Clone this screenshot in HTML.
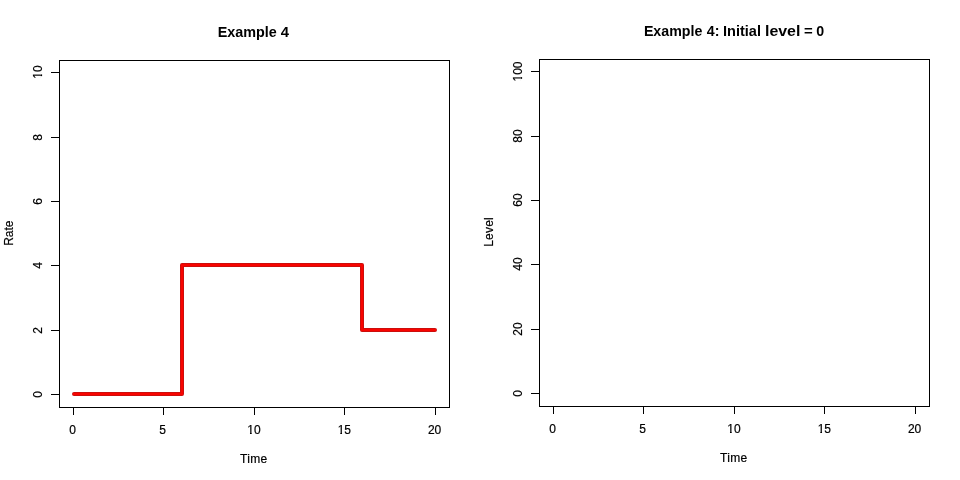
<!DOCTYPE html>
<html><head><meta charset="utf-8"><title>Example 4</title>
<style>
html,body{margin:0;padding:0;background:#fff;}
svg{display:block;}
text{font-family:"Liberation Sans",sans-serif;fill:#000;}
.t{font-size:14px;font-weight:bold;}
.l{font-size:12px;stroke:#000;stroke-width:0.2px;}
.m{text-anchor:middle;}
</style></head><body>
<svg width="960" height="480" viewBox="0 0 960 480">
<rect x="0" y="0" width="960" height="480" fill="#fff"/>
<g fill="#000">
<g shape-rendering="crispEdges">
<rect x="59" y="60" width="391" height="1"/>
<rect x="59" y="407" width="391" height="1"/>
<rect x="59" y="60" width="1" height="348"/>
<rect x="449" y="60" width="1" height="348"/>
<rect x="73" y="407" width="1" height="8"/>
<rect x="163" y="407" width="1" height="8"/>
<rect x="254" y="407" width="1" height="8"/>
<rect x="344" y="407" width="1" height="8"/>
<rect x="435" y="407" width="1" height="8"/>
<rect x="51" y="394" width="9" height="1"/>
<rect x="51" y="330" width="9" height="1"/>
<rect x="51" y="265" width="9" height="1"/>
<rect x="51" y="201" width="9" height="1"/>
<rect x="51" y="137" width="9" height="1"/>
<rect x="51" y="72" width="9" height="1"/>
</g>
<path d="M74 394H182V265H362V330H435" fill="none" stroke="#cc0e0c" stroke-width="4" stroke-linecap="round" stroke-linejoin="round"/>
<path d="M73 394H182V265H362V330H436" fill="none" stroke="#f80400" stroke-width="2" stroke-linecap="butt" stroke-linejoin="miter"/>
<text class="t" transform="translate(217.72,37) scale(1.0272,1)">Example</text>
<text class="t" transform="translate(280.75,37) scale(1.0590,1)">4</text>
<g transform="translate(72.6,434)"><text class="l m">0</text></g>
<g transform="translate(162.5,434)"><text class="l m">5</text></g>
<g transform="translate(254.0,434)"><text class="l m">10</text><rect x="-6.57" y="-1" width="2.55" height="2.4" fill="#fff"/><rect x="-2.27" y="-1" width="2.3" height="2.4" fill="#fff"/></g>
<g transform="translate(344.3,434)"><text class="l m">15</text><rect x="-6.57" y="-1" width="2.55" height="2.4" fill="#fff"/><rect x="-2.27" y="-1" width="2.3" height="2.4" fill="#fff"/></g>
<g transform="translate(434.6,434)"><text class="l m">20</text></g>
<text class="l" x="239.9" y="463" dx="0 0.4 0.3 0.4">Time</text>
<g transform="translate(41.6,394.5) rotate(-90)"><text class="l m">0</text></g>
<g transform="translate(41.6,330.5) rotate(-90)"><text class="l m">2</text></g>
<g transform="translate(41.6,265.5) rotate(-90)"><text class="l m">4</text></g>
<g transform="translate(41.6,201.5) rotate(-90)"><text class="l m">6</text></g>
<g transform="translate(41.6,137.5) rotate(-90)"><text class="l m">8</text></g>
<g transform="translate(41.6,72.1) rotate(-90)"><text class="l m">10</text><rect x="-6.57" y="-1" width="2.55" height="2.4" fill="#fff"/><rect x="-2.27" y="-1" width="2.3" height="2.4" fill="#fff"/></g>
<text class="l" transform="translate(12.6,245.85) rotate(-90)">Rate</text>
<g shape-rendering="crispEdges">
<rect x="539" y="59" width="391" height="1"/>
<rect x="539" y="406" width="391" height="1"/>
<rect x="539" y="59" width="1" height="348"/>
<rect x="929" y="59" width="1" height="348"/>
<rect x="553" y="406" width="1" height="8"/>
<rect x="643" y="406" width="1" height="8"/>
<rect x="734" y="406" width="1" height="8"/>
<rect x="824" y="406" width="1" height="8"/>
<rect x="915" y="406" width="1" height="8"/>
<rect x="531" y="393" width="9" height="1"/>
<rect x="531" y="329" width="9" height="1"/>
<rect x="531" y="264" width="9" height="1"/>
<rect x="531" y="200" width="9" height="1"/>
<rect x="531" y="136" width="9" height="1"/>
<rect x="531" y="71" width="9" height="1"/>
</g>
<text class="t" transform="translate(643.89,36) scale(1.0146,1)">Example</text>
<text class="t" transform="translate(706.86,36) scale(1.0130,1)">4:</text>
<text class="t" transform="translate(722.96,36) scale(1.0393,1)">Initial</text>
<text class="t" transform="translate(764.96,36) scale(1.1389,1)">level</text>
<text class="t" transform="translate(803.88,36) scale(1.0684,1)">=</text>
<text class="t" transform="translate(816.21,36) scale(1.0167,1)">0</text>
<g transform="translate(552.6,433)"><text class="l m">0</text></g>
<g transform="translate(642.5,433)"><text class="l m">5</text></g>
<g transform="translate(734.0,433)"><text class="l m">10</text><rect x="-6.57" y="-1" width="2.55" height="2.4" fill="#fff"/><rect x="-2.27" y="-1" width="2.3" height="2.4" fill="#fff"/></g>
<g transform="translate(824.3,433)"><text class="l m">15</text><rect x="-6.57" y="-1" width="2.55" height="2.4" fill="#fff"/><rect x="-2.27" y="-1" width="2.3" height="2.4" fill="#fff"/></g>
<g transform="translate(914.6,433)"><text class="l m">20</text></g>
<text class="l" x="719.9" y="462" dx="0 0.4 0.3 0.4">Time</text>
<g transform="translate(521.6,393.5) rotate(-90)"><text class="l m">0</text></g>
<g transform="translate(521.6,329.1) rotate(-90)"><text class="l m">20</text></g>
<g transform="translate(521.6,264.1) rotate(-90)"><text class="l m">40</text></g>
<g transform="translate(521.6,200.1) rotate(-90)"><text class="l m">60</text></g>
<g transform="translate(521.6,136.1) rotate(-90)"><text class="l m">80</text></g>
<g transform="translate(521.6,71.5) rotate(-90)"><text class="l m">100</text><rect x="-9.91" y="-1" width="2.55" height="2.4" fill="#fff"/><rect x="-5.61" y="-1" width="2.3" height="2.4" fill="#fff"/></g>
<text class="l" transform="translate(492.6,246.80) rotate(-90)" dx="0 0.2 0.2 0.2 0.2">Level</text>
</g>
</svg>
</body></html>
